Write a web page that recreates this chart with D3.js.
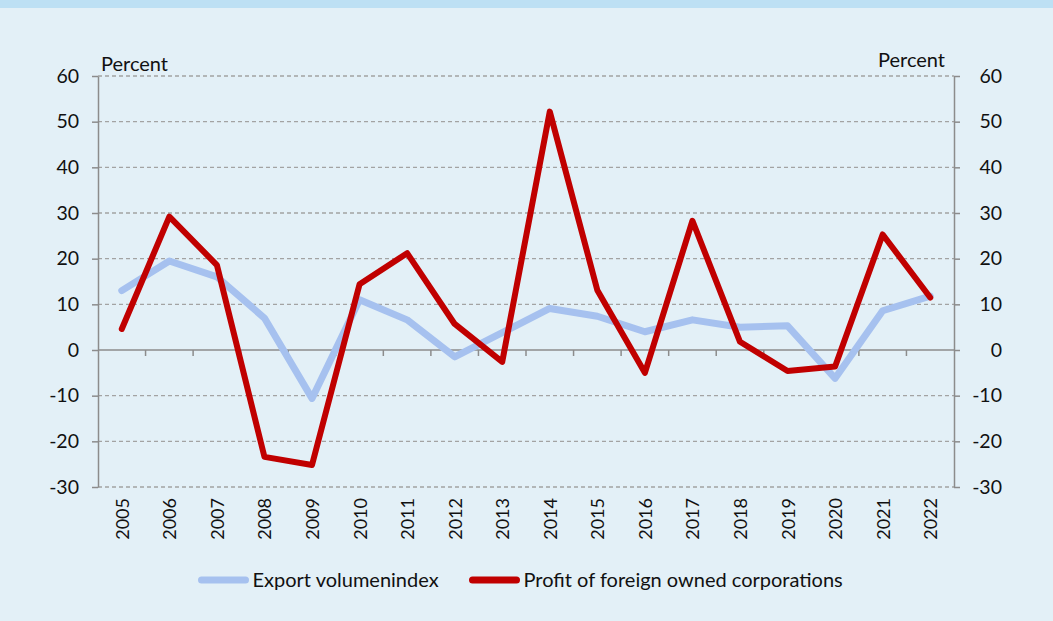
<!DOCTYPE html>
<html lang="en">
<head>
  <meta charset="UTF-8">
  <title>Export volume and profit of foreign owned corporations</title>
  <script src="https://d3js.org/d3.v7.min.js"></script>
  <style>
    body { margin: 0; background: #e3f0f7; }
    text { font-family: Lato, sans-serif; fill: #111; }
    .grid line { stroke: #a3a3a3; stroke-dasharray: 4,3; stroke-width: 1.3px; }
    .axis path, .axis line { stroke: #8c8c8c; stroke-width: 1.5px; }
  </style>
</head>
<body>
  <svg id="chart" width="1053" height="621"></svg>

  <script>
    const years = d3.range(2005, 2023).map(String);
    const exportVolume = [13, 19.5, 16, 7, -10.6, 11, 6.6, -1.5, 3.8, 9.1, 7.4, 4, 6.6, 5, 5.3, -6.2, 8.6, 11.8];
    const foreignProfit = [4.6, 29.2, 18.6, -23.4, -25.2, 14.4, 21.2, 5.7, -2.6, 52.2, 13.1, -5, 28.3, 1.8, -4.6, -3.6, 25.3, 11.5];
    const yTicks = [-30, -20, -10, 0, 10, 20, 30, 40, 50, 60];
    const seriesNames = ["Export volumenindex", "Profit of foreign owned corporations"];
    const seriesColors = ["#a6c1ef", "#c00000"];

    const svg = d3.select("#chart");
    const W = 1053, H = 621;
    const plot = { left: 98, right: 954, top: 76, bottom: 487 };
    const fmt = d => String(d); // plain hyphen minus, as in the original

    svg.append("rect").attr("width", W).attr("height", H).attr("fill", "#e3f0f7");
    svg.append("rect").attr("width", W).attr("height", 8).attr("fill", "#bde0f4");

    const x = d3.scaleBand().domain(years).range([plot.left, plot.right]);
    const y = d3.scaleLinear().domain([-30, 60]).range([plot.bottom, plot.top]);

    // dashed gridlines
    svg.append("g").attr("class", "grid")
      .selectAll("line")
      .data(yTicks.filter(d => d !== 0))
      .join("line")
      .attr("x1", plot.left).attr("x2", plot.right)
      .attr("y1", d => y(d)).attr("y2", d => y(d));

    // left axis
    const yLeft = svg.append("g").attr("class", "axis")
      .attr("transform", `translate(${plot.left},0)`)
      .call(d3.axisLeft(y).tickValues(yTicks).tickFormat(fmt).tickSize(6).tickSizeOuter(0).tickPadding(13));
    yLeft.selectAll("text").style("font-size", "19.5px");

    // right axis, labels right-aligned
    const yRight = svg.append("g").attr("class", "axis")
      .attr("transform", `translate(${plot.right},0)`)
      .call(d3.axisRight(y).tickValues(yTicks).tickFormat(fmt).tickSize(6).tickSizeOuter(0));
    yRight.selectAll("text")
      .attr("x", 48)
      .attr("text-anchor", "end")
      .style("font-size", "19.5px");

    // zero line with category boundary ticks
    svg.append("line")
      .attr("x1", plot.left).attr("x2", plot.right)
      .attr("y1", y(0)).attr("y2", y(0))
      .attr("stroke", "#8c8c8c").attr("stroke-width", 1.5);
    svg.append("g")
      .selectAll("line")
      .data(years.slice(1))
      .join("line")
      .attr("x1", d => x(d)).attr("x2", d => x(d))
      .attr("y1", y(0)).attr("y2", y(0) + 6)
      .attr("stroke", "#8c8c8c").attr("stroke-width", 1.5);

    // year labels, rotated
    svg.append("g")
      .selectAll("text")
      .data(years)
      .join("text")
      .attr("transform", d => `translate(${x(d) + x.bandwidth() / 2 + 7},${plot.bottom + 11}) rotate(-90)`)
      .attr("text-anchor", "end")
      .style("font-size", "18px")
      .text(d => d);

    // unit labels
    svg.append("text").attr("x", plot.left + 3).attr("y", 71).style("font-size", "20px").text("Percent");
    svg.append("text").attr("x", plot.right - 9).attr("y", 67).attr("text-anchor", "end")
      .style("font-size", "20px").text("Percent");

    // lines
    const line = d3.line()
      .x((d, i) => x(years[i]) + x.bandwidth() / 2)
      .y(d => y(d));

    [exportVolume, foreignProfit].forEach((vals, k) => {
      svg.append("path")
        .datum(vals)
        .attr("fill", "none")
        .attr("stroke", seriesColors[k])
        .attr("stroke-width", k === 0 ? 7 : 6)
        .attr("stroke-linejoin", "round")
        .attr("stroke-linecap", "round")
        .attr("d", line);
    });

    // legend
    const legendX = [201.5, 472.5];
    seriesNames.forEach((name, k) => {
      const g = svg.append("g").attr("transform", `translate(${legendX[k]},580)`);
      g.append("line")
        .attr("x1", 0).attr("x2", 44)
        .attr("stroke", seriesColors[k])
        .attr("stroke-width", 7)
        .attr("stroke-linecap", "round");
      g.append("text")
        .attr("x", 51).attr("dy", "0.35em")
        .style("font-size", "20px")
        .text(name);
    });
  </script>
</body>
</html>
